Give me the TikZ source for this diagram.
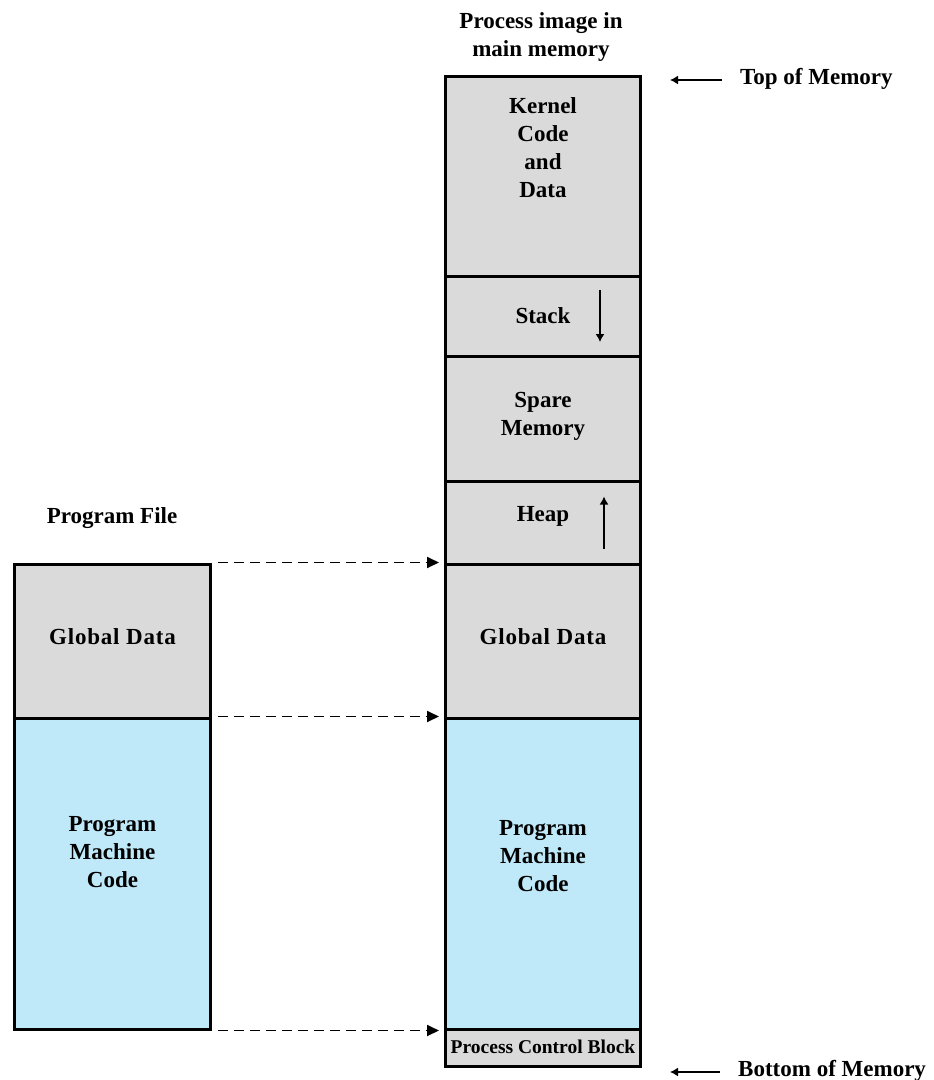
\documentclass[tikz,border=0pt]{standalone}
\usepackage{fontspec}
\setmainfont{Liberation Serif}
\usetikzlibrary{arrows.meta,positioning}
\definecolor{memgray}{HTML}{DADADA}
\definecolor{codeblue}{HTML}{BFE9F8}

\begin{document}
\begin{tikzpicture}[x=1pt, y=-1pt, >=Stealth,
    seg/.style={draw, line width=3pt, inner sep=0pt, fill=memgray},
    rseg/.style={seg, minimum width=195pt},
    lseg/.style={seg, minimum width=196pt},
    txt/.style={font=\fontsize{23}{28}\selectfont\bfseries, align=center, inner sep=0pt},
    spaced/.style={font=\fontsize{23}{28}\selectfont\bfseries\addfontfeature{LetterSpace=3.5}},
    mapto/.style={-{Triangle[length=12pt,width=11pt]}, line width=1.8pt, dash pattern=on 10pt off 6pt,
                  shorten <=5.5pt, shorten >=5pt},
    growarrow/.style={-{Latex[length=8pt,width=9pt]}, line width=1.4pt}]
    \useasboundingbox (0,0) rectangle (934,1080);

    % --- Right: process image in main memory ---
    \node[txt] (header) at (541,37) {Process image in\\main memory};

    \node[rseg, minimum height=199.5pt] (kernel) at (543,176.25) {};
    \node[rseg, minimum height=80pt] (stack) at (543,316) {};
    \node[rseg, minimum height=125pt] (spare) at (543,418.5) {};
    \node[rseg, minimum height=83pt] (heap) at (543,522.5) {};
    \node[rseg, minimum height=154pt] (global) at (543,641) {};
    \node[rseg, minimum height=311pt, fill=codeblue] (code) at (543,873.5) {};
    \node[rseg, minimum height=37.5pt] (pcb) at (543,1047.75) {};

    \node[txt] (kernel-t) at ([yshift=29pt]kernel.center) {Kernel\\Code\\and\\Data};
    \node[txt] (stack-t) at (stack.center) {Stack};
    \node[txt] (spare-t) at ([yshift=2pt]spare.center) {Spare\\Memory};
    \node[txt] (heap-t) at ([yshift=6pt]heap.center) {Heap};
    \node[txt, spaced] (global-t) at ([yshift=4pt]global.center) {Global Data};
    \node[txt] (code-t) at ([yshift=17pt]code.center) {Program\\Machine\\Code};
    \node[txt, font=\fontsize{19.5}{22}\selectfont\bfseries] (pcb-t) at ([yshift=1pt]pcb.center) {Process Control Block};

    % growth of stack and heap
    \draw[growarrow] ([xshift=57pt,yshift=26pt]stack.center) -- ([xshift=57pt,yshift=-26pt]stack.center);
    \draw[growarrow] ([xshift=61pt,yshift=-26pt]heap.center) -- ([xshift=61pt,yshift=26pt]heap.center);

    % memory ends
    \node[txt, anchor=base west] (topmem) at (740,84) {Top of Memory};
    \node[txt, anchor=base west] (botmem) at (738,1076) {Bottom of Memory};
    \draw[growarrow] ([xshift=-18pt,yshift=4pt]topmem.base west) -- ([xshift=-70pt,yshift=4pt]topmem.base west);
    \draw[growarrow] ([xshift=-18pt,yshift=4pt]botmem.base west) -- ([xshift=-68pt,yshift=4pt]botmem.base west);

    % --- Left: program file ---
    \node[txt] (file) at (112,518) {Program File};
    \node[lseg, minimum height=154pt] (lglobal) at (112.5,641) {};
    \node[lseg, minimum height=311pt, fill=codeblue] (lcode) at (112.5,873.5) {};
    \node[txt, spaced] (lglobal-t) at ([yshift=4pt]lglobal.center) {Global Data};
    \node[txt] (lcode-t) at ([yshift=21pt]lcode.center) {Program\\Machine\\Code};

    % loading into memory
    \draw[mapto] (lglobal.north east) -- (lglobal.north east -| global.west);
    \draw[mapto] (lcode.north east) -- (lcode.north east -| code.west);
    \draw[mapto] (lcode.south east) -- (lcode.south east -| code.west);
\end{tikzpicture}
\end{document}
